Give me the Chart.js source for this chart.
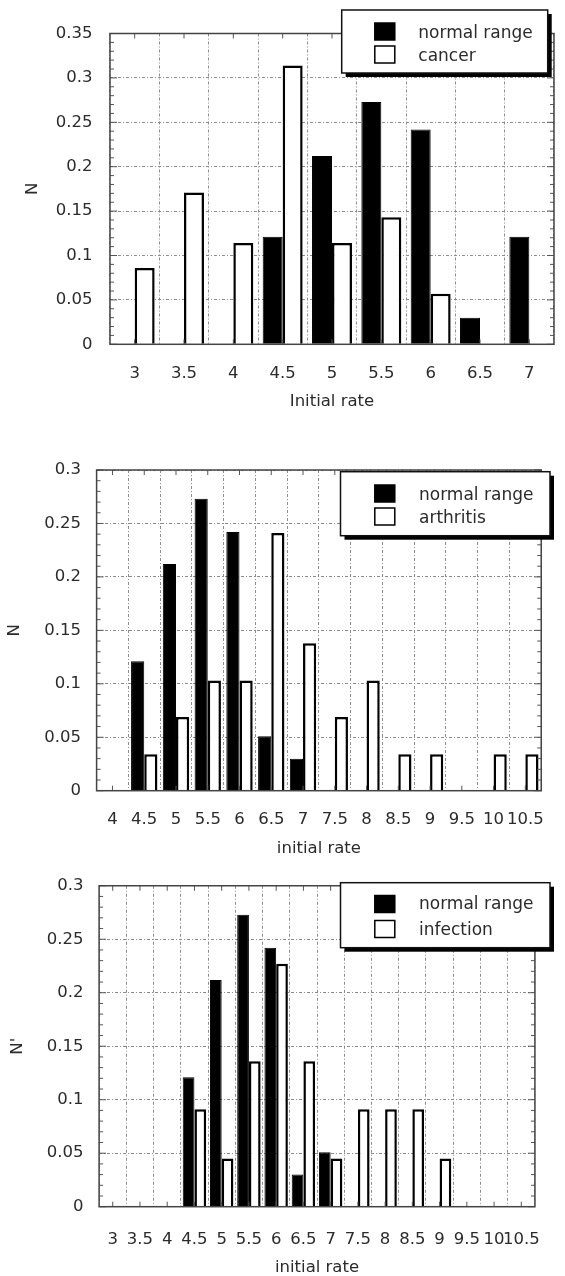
<!DOCTYPE html>
<html><head><meta charset="utf-8">
<script src="https://cdn.jsdelivr.net/npm/chart.js@4.4.0/dist/chart.umd.min.js"></script>
<style>
html,body{margin:0;padding:0;background:#fff;}
#wrap{position:relative;width:565px;height:1276px;overflow:hidden;background:#fff;}
canvas{position:absolute;left:0;}
</style></head><body>
<div id="wrap">
<canvas id="c1" width="565" height="410" style="top:0px"></canvas>
<canvas id="c2" width="565" height="452" style="top:410px"></canvas>
<canvas id="c3" width="565" height="414" style="top:862px"></canvas>
</div>
<script>
// ---- data ----
const cancerCategories = ['3','3.5','4','4.5','5','5.5','6','6.5','7'];
const cancerNormal = [0,0,0,0.121,0.212,0.273,0.242,0.030,0.121];
const cancerValues = [0.086,0.171,0.114,0.314,0.114,0.143,0.057,0,0];

const arthritisCategories = ['4','4.5','5','5.5','6','6.5','7','7.5','8','8.5','9','9.5','10','10.5'];
const arthritisNormal = [0,0.121,0.212,0.273,0.242,0.051,0.030,0,0,0,0,0,0,0];
const arthritisValues = [0,0.034,0.069,0.103,0.103,0.241,0.138,0.069,0.103,0.034,0.034,0,0.034,0.034];

const infectionCategories = ['3','3.5','4','4.5','5','5.5','6','6.5','7','7.5','8','8.5','9','9.5','10','10.5'];
const infectionNormal = [0,0,0,0.121,0.212,0.273,0.242,0.030,0.051,0,0,0,0,0,0,0];
const infectionValues = [0,0,0,0.091,0.045,0.136,0.227,0.136,0.045,0.091,0.091,0.091,0.045,0,0,0];

const yMaxCancer = 0.35, yMaxOther = 0.3, yStep = 0.05;
const seriesNames = {normal:'normal range', cancer:'cancer', arthritis:'arthritis', infection:'infection'};
const xTitles = ['Initial rate','initial rate','initial rate'];
const yTitles = ['N','N','N\''];

// ---- rendering ----
const FONT = "'DejaVu Sans', 'Liberation Sans', sans-serif";
const TXT = '#2b2b2b';
Chart.defaults.font.family = FONT;
Chart.defaults.color = TXT;

const framePlugin = {
  id: 'frame',
  afterDatasetsDraw(chart) {
    const {ctx, chartArea: a, scales: {x, y}} = chart;
    ctx.save();
    ctx.strokeStyle = '#555';
    ctx.lineWidth = 1;
    const line = (x1,y1,x2,y2)=>{ctx.beginPath();ctx.moveTo(x1,y1);ctx.lineTo(x2,y2);ctx.stroke();};
    const n = Math.round(y.max*100);
    for (let i = 0; i <= n; i++) {
      const py = y.getPixelForValue(i/100);
      const len = (i % 5 === 0) ? 7 : 4;
      line(a.left, py, a.left+len, py);
      line(a.right, py, a.right-len, py);
    }
    for (let i = 0; i < x.ticks.length; i++) {
      const px = x.getPixelForTick(i);
      line(px, a.top, px, a.top+5);
      line(px, a.bottom, px, a.bottom-5);
    }
    ctx.lineWidth = 1.5;
    ctx.strokeStyle = '#444';
    ctx.strokeRect(a.left, a.top, a.width, a.height);
    ctx.restore();
  }
};

const boxLegendPlugin = {
  id: 'boxLegend',
  afterDraw(chart, args, o) {
    const ctx = chart.ctx;
    ctx.save();
    ctx.fillStyle = '#000';
    ctx.fillRect(o.x+4, o.y+4, o.w, o.h);
    ctx.fillStyle = '#fff';
    ctx.fillRect(o.x, o.y, o.w, o.h);
    ctx.strokeStyle = '#111';
    ctx.lineWidth = 1.5;
    ctx.strokeRect(o.x, o.y, o.w, o.h);
    chart.data.datasets.forEach((ds, i) => {
      const sy = o.rows[i];
      ctx.fillStyle = ds.backgroundColor;
      ctx.fillRect(o.sx, sy, 20, 17);
      ctx.strokeStyle = '#000';
      ctx.lineWidth = 1.5;
      ctx.strokeRect(o.sx, sy, 20, 17);
      ctx.fillStyle = TXT;
      ctx.font = "17px " + FONT;
      ctx.textBaseline = 'alphabetic';
      ctx.textAlign = 'left';
      ctx.fillText(ds.label, o.tx, o.base[i]);
    });
    ctx.restore();
  }
};

function makeChart(id, cfg) {
  const fs = 16.5;
  return new Chart(document.getElementById(id), {
    type: 'bar',
    data: {
      labels: cfg.labels,
      datasets: [
        {label: seriesNames.normal, data: cfg.normal, backgroundColor: '#000', borderColor: '#000',
         borderWidth: c => (c.raw > 0 ? 1 : 0), categoryPercentage: cfg.catPct, barPercentage: 1},
        {label: cfg.name, data: cfg.values, backgroundColor: '#fff', borderColor: '#000',
         borderWidth: c => (c.raw > 0 ? 2.5 : 0), categoryPercentage: cfg.catPct, barPercentage: 1}
      ]
    },
    options: {
      responsive: false, animation: false,
      layout: {padding: {top: cfg.padTop, right: cfg.padRight, left: 0, bottom: 0}},
      plugins: {legend: {display: false}, tooltip: {enabled: false}, boxLegend: cfg.legend},
      scales: {
        x: {
          type: 'category', offset: true,
          grid: {offset: true, color: '#8c8c8c', lineWidth: 1, drawTicks: false},
          border: {display: false, dash: [3,2,1,2]},
          ticks: {autoSkip: false, maxRotation: 0, minRotation: 0, padding: cfg.xPad,
                  font: {size: fs, lineHeight: 1}, color: TXT},
          title: {display: true, text: cfg.xTitle, font: {size: fs, lineHeight: 1}, color: TXT,
                  padding: {top: 0, bottom: cfg.xTitlePad}},
          afterFit: s => { s.height = cfg.xHeight; }
        },
        y: {
          min: 0, max: cfg.yMax,
          grid: {color: '#8c8c8c', lineWidth: 1, drawTicks: false},
          border: {display: false, dash: [3,2,1,2]},
          ticks: {stepSize: yStep, padding: cfg.yPad, font: {size: fs, lineHeight: 1}, color: TXT,
                  callback: v => String(Number(v.toFixed(2)))},
          title: {display: true, text: cfg.yTitle, font: {size: fs, lineHeight: 1}, color: TXT,
                  padding: {top: cfg.yTitlePad, bottom: 0}},
          afterFit: s => { s.width = cfg.yWidth; }
        }
      }
    },
    plugins: [framePlugin, boxLegendPlugin]
  });
}

makeChart('c1', {
  labels: cancerCategories, normal: cancerNormal, values: cancerValues, name: seriesNames.cancer,
  yMax: yMaxCancer, xTitle: xTitles[0], yTitle: yTitles[0],
  padTop: 33.5, padRight: 11, yWidth: 110, xHeight: 65.7, catPct: 0.81,
  xPad: 20.7, xTitlePad: 0, yPad: 17.5, yTitlePad: 24.7,
  legend: {x: 341.7, y: 10, w: 206, h: 63, sx: 374.8, rows: [23, 46], tx: 418.3, base: [37.9, 61.3]}
});
makeChart('c2', {
  labels: arthritisCategories, normal: arthritisNormal, values: arthritisValues, name: seriesNames.arthritis,
  yMax: yMaxOther, xTitle: xTitles[1], yTitle: yTitles[1],
  padTop: 60, padRight: 8.2, yWidth: 96.6, xHeight: 71.3, catPct: 0.83,
  xPad: 21, xTitlePad: 5.4, yPad: 15.6, yTitlePad: 6.2,
  legend: {x: 340.5, y: 61.7, w: 209.5, h: 64, sx: 374.8, rows: [75, 98], tx: 419, base: [89.6, 112.9]}
});
makeChart('c3', {
  labels: infectionCategories, normal: infectionNormal, values: infectionValues, name: seriesNames.infection,
  yMax: yMaxOther, xTitle: xTitles[2], yTitle: yTitles[2],
  padTop: 23, padRight: 10, yWidth: 99.1, xHeight: 69.3, catPct: 0.86,
  xPad: 25, xTitlePad: 0, yPad: 15.5, yTitlePad: 9,
  legend: {x: 340.5, y: 20.7, w: 209.5, h: 65, sx: 374.8, rows: [33.5, 58.5], tx: 419, base: [46.9, 72.6]}
});
</script>
</body></html>
